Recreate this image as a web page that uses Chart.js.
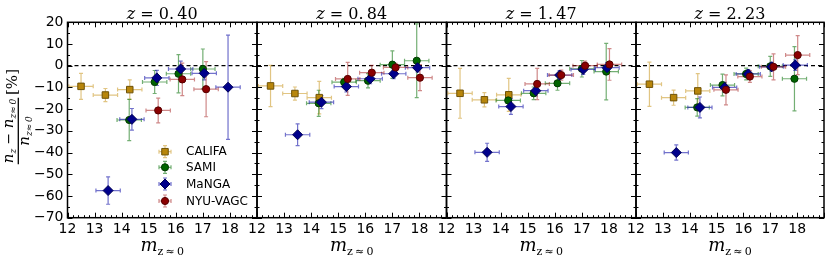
<!DOCTYPE html>
<html>
<head>
<meta charset="utf-8">
<script src="https://cdn.jsdelivr.net/npm/chart.js@4/dist/chart.umd.min.js"></script>
<style>
  html, body { margin: 0; padding: 0; background: #fff; }
  #wrap { position: relative; width: 830px; height: 260px; }
  #wrap canvas { position: absolute; left: 0; top: 0; }
</style>
</head>
<body>
<div id="wrap">
  <canvas id="p0" width="830" height="260"></canvas>
  <canvas id="p1" width="830" height="260"></canvas>
  <canvas id="p2" width="830" height="260"></canvas>
  <canvas id="p3" width="830" height="260"></canvas>
</div>
<script>
// one panel per redshift
const redshifts = ['0.40', '0.84', '1.47', '2.23'];
const xTicks = [12, 13, 14, 15, 16, 17, 18];
const yTicks = [20, 10, 0, -10, -20, -30, -40, -50, -60, -70];
const mErr = 0.45; // half bin width in m

const califaM = [12.5, 13.4, 14.3];
const califaY = [[-9.5, -13.5, -11.0], [-9.3, -12.8, -14.7], [-12.7, -15.7, -13.4], [-8.5, -14.7, -11.6]];
const califaErr = [[6.0, 3.0, 4.5], [9.5, 3.0, 7.5], [11.5, 3.3, 7.6], [10.2, 3.5, 8.0]];

const samiM = [14.28, 15.22, 16.1, 17.0, 17.9];
const samiY = [[-25.0, -7.5, -3.7, -1.5, null], [-17.3, -7.6, -6.9, 0.5, 2.3], [-16.0, -12.7, -8.1, -1.4, -2.7], [-19.2, -8.9, -3.8, -0.3, -6.0]];
const samiErr = [[9.5, 5.3, 8.8, 9.2, 0], [6.0, 1.8, 3.3, 6.3, 17.0], [3.2, 2.9, 3.2, 3.8, 13.0], [4.0, 5.0, 2.7, 4.6, 14.8]];

const mangaM = [13.5, 14.38, 15.3, 16.18, 17.05, 17.93];
const mangaY = [[-57.5, -24.7, -5.6, -1.5, -3.5, -9.9], [-31.8, -16.8, -9.6, -6.0, -3.7, -0.9], [-39.9, -18.8, -11.5, -4.3, -1.7, -0.9], [-40.0, -19.2, -10.0, -3.8, -0.5, 0.3]];
const mangaErr = [[6.3, 5.0, 3.5, 3.6, 3.0, 24.0], [5.0, 3.0, 2.5, 2.3, 2.3, 2.0], [4.2, 3.6, 2.4, 2.0, 2.3, 2.3], [3.5, 4.8, 2.3, 2.0, 2.0, 2.4]];

const nyuM = [15.35, 16.24, 17.12, 18.02];
const nyuY = [[-20.6, -6.3, -10.8, null], [-6.1, -3.2, -0.8, -5.5], [-8.4, -4.3, 0.0, 0.6], [-11.1, -5.0, -0.5, 4.9]];
const nyuErr = [[5.7, 7.5, 12.7, 0], [7.6, 3.4, 1.9, 6.0], [7.2, 2.3, 2.1, 7.3], [6.9, 2.7, 6.0, 9.0]];

const panelLeft = [67.5, 257, 446.5, 636];
const panelRight = [257, 446.5, 636, 825.5];

const SERIF = '"DejaVu Serif"';
const SANS = '"DejaVu Sans"';

function points(ms, ys, es) {
  const out = [];
  ms.forEach((m, k) => {
    if (ys[k] !== null) out.push({ x: m, y: ys[k], e: es[k] });
  });
  return out;
}

const styles = [
  { label: 'CALIFA', pointStyle: 'rect', radius: 4.6, bg: '#b8860b', border: '#6e5208', err: 'rgba(200,150,30,0.55)', order: 4 },
  { label: 'SAMI', pointStyle: 'circle', radius: 3.6, bg: '#006400', border: '#003800', err: 'rgba(0,110,0,0.55)', order: 3 },
  { label: 'MaNGA', pointStyle: 'rectRot', radius: 5, bg: '#00008b', border: '#000055', err: 'rgba(20,20,170,0.6)', order: 2 },
  { label: 'NYU-VAGC', pointStyle: 'circle', radius: 3.6, bg: '#8b0000', border: '#550000', err: 'rgba(160,20,20,0.5)', order: 1 }
];

// draw a run of text pieces [text, font, dy], returns width
function runWidth(ctx, parts) {
  let w = 0;
  parts.forEach(p => { ctx.font = p[1]; w += ctx.measureText(p[0]).width; });
  return w;
}
function drawRun(ctx, parts, x, y) {
  parts.forEach(p => {
    ctx.font = p[1];
    ctx.fillText(p[0], x, y + p[2]);
    x += ctx.measureText(p[0]).width;
  });
}
function drawRunCentered(ctx, parts, cx, y) {
  drawRun(ctx, parts, cx - runWidth(ctx, parts) / 2, y);
}

function drawErr(ctx, xl, xr, px, py, yt, yb, cap) {
  ctx.beginPath();
  ctx.moveTo(xl, py); ctx.lineTo(xr, py);
  ctx.moveTo(px, yt); ctx.lineTo(px, yb);
  ctx.moveTo(xl, py - cap); ctx.lineTo(xl, py + cap);
  ctx.moveTo(xr, py - cap); ctx.lineTo(xr, py + cap);
  ctx.moveTo(px - cap, yt); ctx.lineTo(px + cap, yt);
  ctx.moveTo(px - cap, yb); ctx.lineTo(px + cap, yb);
  ctx.stroke();
}

const decor = {
  id: 'decor',
  beforeDatasetsDraw(chart) {
    const { ctx, chartArea: a, scales: { x, y } } = chart;
    ctx.save();
    // dashed zero line
    ctx.strokeStyle = '#000';
    ctx.lineWidth = 1.2;
    ctx.setLineDash([4, 3]);
    const y0 = y.getPixelForValue(0);
    ctx.beginPath(); ctx.moveTo(a.left, y0); ctx.lineTo(a.right, y0); ctx.stroke();
    ctx.setLineDash([]);
    // error bars
    chart.data.datasets.forEach(ds => {
      ctx.strokeStyle = ds.errColor;
      ctx.lineWidth = 1.2;
      ds.data.forEach(p => {
        drawErr(ctx,
          x.getPixelForValue(p.x - mErr), x.getPixelForValue(p.x + mErr),
          x.getPixelForValue(p.x), y.getPixelForValue(p.y),
          y.getPixelForValue(p.y + p.e), y.getPixelForValue(p.y - p.e), 2);
      });
    });
    ctx.restore();
  },
  afterDraw(chart, args, opts) {
    const { ctx, chartArea: a, scales: { x, y } } = chart;
    const i = opts.panel;
    ctx.save();
    ctx.strokeStyle = '#000';
    // ticks on all four sides, pointing in
    ctx.lineWidth = 1;
    ctx.beginPath();
    for (let k = 0; k <= 35; k++) {
      const m = 12 + k * 0.2;
      const px = Math.round(x.getPixelForValue(m)) + 0.5;
      const len = k % 5 === 0 ? 5 : 2.5;
      ctx.moveTo(px, a.bottom); ctx.lineTo(px, a.bottom - len);
      ctx.moveTo(px, a.top); ctx.lineTo(px, a.top + len);
    }
    for (let v = -70; v <= 20; v += 5) {
      const py = Math.round(y.getPixelForValue(v)) + 0.5;
      const len = v % 10 === 0 ? 5 : 2.5;
      ctx.moveTo(a.left, py); ctx.lineTo(a.left + len, py);
      ctx.moveTo(a.right, py); ctx.lineTo(a.right - len, py);
    }
    ctx.stroke();
    // frame
    ctx.lineWidth = 1.5;
    ctx.strokeRect(a.left, a.top, a.right - a.left, a.bottom - a.top);

    ctx.fillStyle = '#000';
    ctx.textBaseline = 'alphabetic';
    const cx = (a.left + a.right) / 2;
    // title
    const zp = redshifts[i].split('.');
    drawRunCentered(ctx, [['z', 'italic 16px ' + SERIF, 0], [' = ' + zp[0] + '.\u2009' + zp[1], '16px ' + SERIF, 0]], cx, 18.5);
    // x label
    drawRunCentered(ctx, [['m', 'italic 18px ' + SERIF, 0], ['z\u2009\u2248\u20090', '11px ' + SERIF, 3.5]], cx, 251);

    if (i === 0) {
      // y label, rotated fraction
      ctx.save();
      ctx.translate(0, 131);
      ctx.rotate(-Math.PI / 2);
      const num = [['n', 'italic 15px ' + SERIF, 0], ['z', 'italic 9px ' + SERIF, 3], [' \u2212 ', '14px ' + SERIF, 0],
                   ['n', 'italic 15px ' + SERIF, 0], ['z\u2248\u20090', 'italic 9px ' + SERIF, 3]];
      const den = [['n', 'italic 15px ' + SERIF, 0], ['z\u2248\u20090', 'italic 9px ' + SERIF, 3]];
      const wn = runWidth(ctx, num);
      drawRun(ctx, num, -wn / 2, 12.5);
      ctx.lineWidth = 1.3;
      ctx.beginPath(); ctx.moveTo(-wn / 2 - 1, 18.3); ctx.lineTo(wn / 2 + 1, 18.3); ctx.stroke();
      drawRun(ctx, den, -runWidth(ctx, den) / 2, 28.5);
      drawRunCentered(ctx, [['[%]', '15px ' + SERIF, 0]], 49, 17);
      ctx.restore();

      // legend
      const rows = [151.7, 167.3, 184, 201];
      ctx.font = '12px ' + SANS;
      ctx.textBaseline = 'middle';
      styles.forEach((s, k) => {
        const ly = rows[k];
        ctx.strokeStyle = s.err;
        ctx.lineWidth = 1.2;
        drawErr(ctx, 159, 171, 165, ly, ly - 6, ly + 6, 2);
        ctx.fillStyle = s.bg;
        ctx.strokeStyle = s.border;
        ctx.lineWidth = 1;
        Chart.helpers.drawPoint(ctx, { pointStyle: s.pointStyle, radius: s.radius, rotation: 0, borderWidth: 1 }, 165, ly);
        ctx.fillStyle = '#000';
        ctx.fillText(s.label, 186, ly + 0.5);
      });
    }
    ctx.restore();
  }
};

const minus = v => (v < 0 ? '\u2212' + Math.abs(v) : String(v));

redshifts.forEach((z, i) => {
  const series = [
    points(califaM, califaY[i], califaErr[i]),
    points(samiM, samiY[i], samiErr[i]),
    points(mangaM, mangaY[i], mangaErr[i]),
    points(nyuM, nyuY[i], nyuErr[i])
  ];
  new Chart(document.getElementById('p' + i), {
    type: 'scatter',
    data: {
      datasets: styles.map((s, k) => ({
        label: s.label,
        data: series[k],
        pointStyle: s.pointStyle,
        pointRadius: s.radius,
        backgroundColor: s.bg,
        borderColor: s.border,
        borderWidth: 1,
        errColor: s.err,
        order: s.order
      }))
    },
    options: {
      responsive: false,
      animation: false,
      devicePixelRatio: 1,
      events: [],
      layout: { padding: { left: i === 0 ? 0 : panelLeft[i], right: 830 - panelRight[i], top: 22.3, bottom: 0 } },
      plugins: { legend: { display: false }, tooltip: { enabled: false }, decor: { panel: i } },
      scales: {
        x: {
          type: 'linear', min: 12, max: 19,
          afterFit: s => { s.height = 42.3; },
          afterBuildTicks: s => { s.ticks = xTicks.map(v => ({ value: v })); },
          border: { display: false },
          grid: { display: false, drawTicks: false },
          ticks: { autoSkip: false, maxRotation: 0, padding: 3, color: '#000', font: { family: 'DejaVu Sans', size: 14 } }
        },
        y: {
          type: 'linear', min: -70, max: 20,
          afterFit: s => { s.width = i === 0 ? 67.5 : 0; },
          afterBuildTicks: s => { s.ticks = yTicks.map(v => ({ value: v })); },
          border: { display: false },
          grid: { display: false, drawTicks: false },
          ticks: { display: i === 0, padding: 4, color: '#000', font: { family: 'DejaVu Sans', size: 14 }, callback: minus }
        }
      }
    },
    plugins: [decor]
  });
});
</script>
</body>
</html>
